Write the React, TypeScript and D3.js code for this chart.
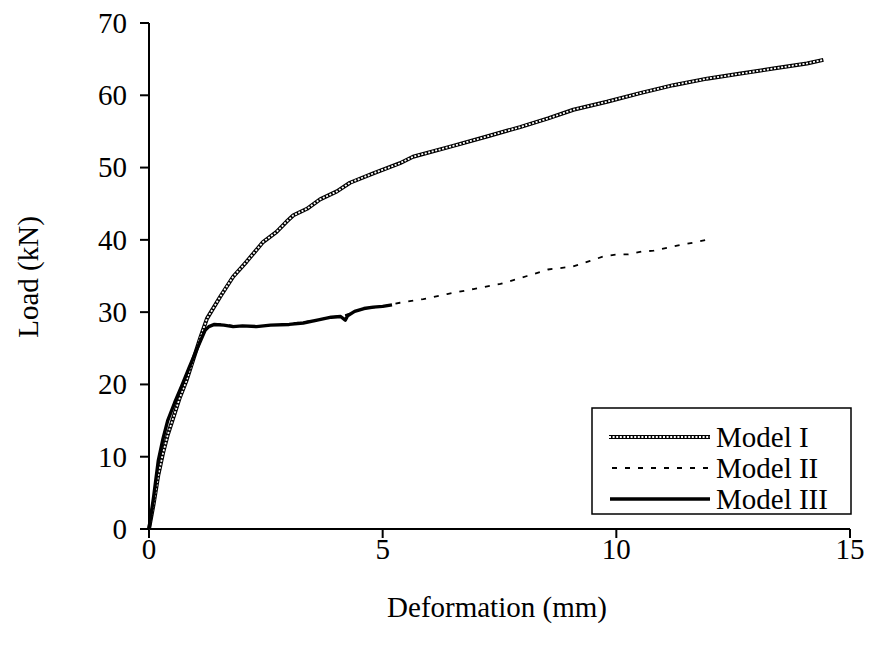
import React from "react";
import * as d3 from "d3";

type Pt = [number, number];

// Load–deformation curves (deformation in mm, load in kN)
const modelI: Pt[] = [
  [0, 0], [0.1, 3.5], [0.2, 7.5], [0.3, 10.5], [0.4, 13], [0.5, 15], [0.65, 18],
  [0.8, 20.5], [0.95, 23.5], [1.1, 26.5], [1.24, 29.1], [1.52, 32.1], [1.8, 34.9],
  [2.09, 37.0], [2.44, 39.7], [2.73, 41.1], [2.94, 42.5], [3.09, 43.4], [3.38, 44.3],
  [3.66, 45.6], [4.02, 46.7], [4.3, 47.9], [4.8, 49.2], [5.37, 50.6], [5.65, 51.5],
  [6.45, 52.9], [7.23, 54.3], [7.94, 55.6], [8.54, 56.8], [9.08, 58.0], [9.8, 59.1],
  [10.51, 60.3], [11.22, 61.4], [11.94, 62.3], [12.66, 63.0], [13.36, 63.7],
  [14.08, 64.4], [14.43, 64.9],
];

const modelII: Pt[] = [
  [0, 0], [0.1, 4.5], [0.2, 9.5], [0.3, 12.5], [0.4, 15], [0.55, 17.5], [0.7, 19.8],
  [0.85, 22.2], [1.0, 24.5], [1.1, 26], [1.2, 27.5], [1.28, 28.0], [1.4, 28.4],
  [1.6, 28.3], [1.8, 28.1], [2.0, 28.1], [2.3, 28.0], [2.6, 28.2], [3.0, 28.4],
  [3.3, 28.6], [3.6, 28.9], [3.9, 29.3], [4.2, 29.6], [4.6, 30.5], [5.0, 30.8],
  [5.37, 31.3], [5.87, 31.8], [6.38, 32.5], [6.94, 33.2], [7.52, 33.9], [8.09, 35.0],
  [8.54, 35.9], [9.06, 36.3], [9.44, 37.1], [9.72, 37.7], [10.04, 38.0], [10.26, 38.0],
  [10.55, 38.4], [10.8, 38.5], [11.09, 38.9], [11.3, 39.2], [11.63, 39.6], [11.93, 40.0],
  [12.0, 40.2],
];

const modelIII: Pt[] = [
  [0, 0], [0.1, 4.5], [0.2, 9.5], [0.3, 12.5], [0.4, 15], [0.55, 17.5], [0.7, 19.8],
  [0.85, 22.2], [1.0, 24.5], [1.1, 26], [1.2, 27.5], [1.28, 28.0], [1.4, 28.3],
  [1.6, 28.2], [1.8, 28.0], [2.0, 28.1], [2.3, 28.0], [2.6, 28.2], [3.0, 28.3],
  [3.3, 28.5], [3.6, 28.9], [3.9, 29.3], [4.1, 29.4], [4.2, 28.9], [4.25, 29.5],
  [4.4, 30.1], [4.6, 30.5], [4.8, 30.7], [5.0, 30.8], [5.2, 31.0],
];

const xTicks = [0, 5, 10, 15];
const yTicks = [0, 10, 20, 30, 40, 50, 60, 70];
const seriesNames = ["Model I", "Model II", "Model III"];

const FONT = "'Liberation Serif', 'Times New Roman', serif";
const FS = 29;

const x = d3.scaleLinear().domain([0, 15]).range([149, 850]);
const y = d3.scaleLinear().domain([0, 70]).range([529, 23]);

const line = d3
  .line<Pt>()
  .x((d) => x(d[0]))
  .y((d) => y(d[1]));

// Patterned "chain" stroke: black band with white holes
function ChainPath({ d }: { d: string }) {
  return (
    <g fill="none" strokeLinejoin="round">
      <path d={d} stroke="#000" strokeWidth={4} />
      <path d={d} stroke="#fff" strokeWidth={1.8} strokeDasharray="2 1.6" />
    </g>
  );
}

export default function App() {
  const legendX = 592;
  const legendY = 408;
  const legendW = 259;
  const legendH = 106;
  const rowY = [437, 468, 499];

  return (
    <svg
      width={872}
      height={660}
      style={{ position: "absolute", left: 0, top: 0, background: "#fff" }}
      fontFamily={FONT}
    >
      <rect width={872} height={660} fill="#fff" />

      {/* axes */}
      <line x1={x(0)} x2={x(0)} y1={y(70)} y2={y(0)} stroke="#000" strokeWidth={2} />
      <line x1={x(0)} x2={x(15)} y1={y(0)} y2={y(0)} stroke="#000" strokeWidth={2} />
      {yTicks.map((t) => (
        <g key={"y" + t}>
          <line x1={x(0) - 9} x2={x(0)} y1={y(t)} y2={y(t)} stroke="#000" strokeWidth={2} />
          <text x={127} y={y(t)} dy="0.34em" textAnchor="end" fontSize={FS}>
            {t}
          </text>
        </g>
      ))}
      {xTicks.map((t) => (
        <g key={"x" + t}>
          <line x1={x(t)} x2={x(t)} y1={y(0)} y2={y(0) + 9} stroke="#000" strokeWidth={2} />
          <text x={x(t)} y={559} textAnchor="middle" fontSize={FS}>
            {t}
          </text>
        </g>
      ))}

      <text x={497} y={617} textAnchor="middle" fontSize={FS}>
        Deformation (mm)
      </text>
      <text
        transform={`translate(38, ${277}) rotate(-90)`}
        textAnchor="middle"
        fontSize={FS}
      >
        Load (kN)
      </text>

      {/* series */}
      <ChainPath d={line(modelI) || ""} />
      <path
        d={line(modelII) || ""}
        fill="none"
        stroke="#000"
        strokeWidth={1.8}
        strokeDasharray="5 8"
      />
      <path
        d={line(modelIII) || ""}
        fill="none"
        stroke="#000"
        strokeWidth={3.4}
        strokeLinejoin="round"
      />

      {/* legend */}
      <rect
        x={legendX}
        y={legendY}
        width={legendW}
        height={legendH}
        fill="#fff"
        stroke="#000"
        strokeWidth={1.5}
      />
      <ChainPath d={`M609,${rowY[0]}H710`} />
      <line x1={612} x2={708} y1={rowY[1]} y2={rowY[1]} stroke="#000" strokeWidth={1.8} strokeDasharray="5 8" />
      <line x1={610} x2={710} y1={rowY[2]} y2={rowY[2]} stroke="#000" strokeWidth={3.4} />
      {seriesNames.map((n, i) => (
        <text key={n} x={716} y={rowY[i]} dy="0.34em" fontSize={FS}>
          {n}
        </text>
      ))}
    </svg>
  );
}
